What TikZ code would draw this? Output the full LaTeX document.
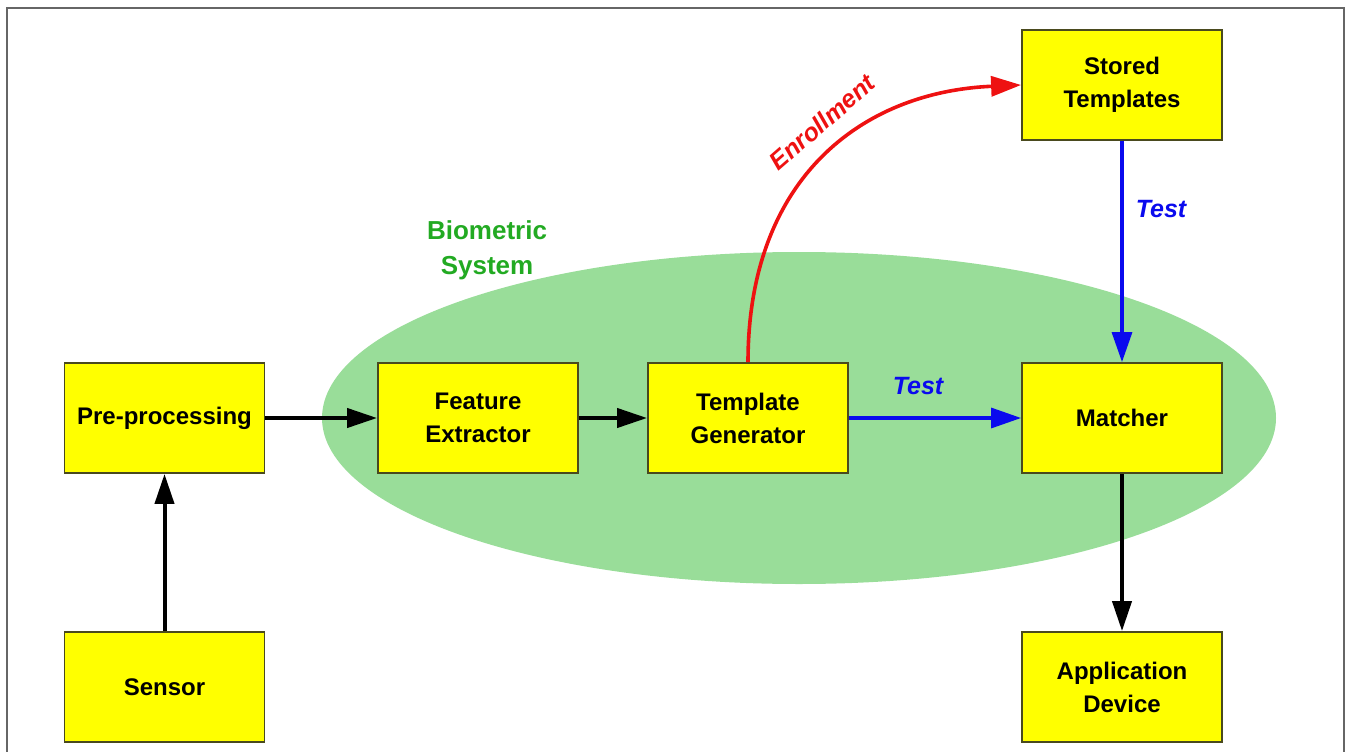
\documentclass[tikz,border=0pt]{standalone}
\usepackage{fontspec}
\setmainfont{Liberation Sans}
\usetikzlibrary{arrows.meta}

\definecolor{boxfill}{HTML}{FFFF00}
\definecolor{boxline}{HTML}{4A4A1E}
\definecolor{zone}{HTML}{99DD99}
\definecolor{zonetext}{HTML}{22AA22}
\definecolor{testblue}{HTML}{0A0AEE}
\definecolor{enrollred}{HTML}{EE1111}
\definecolor{frame}{HTML}{666666}

\tikzset{
  block/.style={draw=boxline, line width=1.8pt, fill=boxfill,
    minimum width=200pt, minimum height=110pt, inner sep=0pt,
    align=center, font=\fontsize{24}{33}\selectfont\bfseries},
  flow/.style={line width=4pt, -{Triangle[length=30pt,width=19pt]}},
  testflow/.style={draw=testblue, line width=3.2pt, -{Triangle[length=30pt,width=20pt]}},
  tag/.style={font=\fontsize{25}{30}\selectfont\bfseries\itshape, inner sep=0pt}
}

\begin{document}
\begin{tikzpicture}[x=1pt, y=-1pt]
  \useasboundingbox (0,0) rectangle (1350,752);

  % outer frame (open at the bottom edge)
  \draw[frame, line width=2.2pt] (7,752) -- (7,8) -- (1344,8) -- (1344,752);

  % region of the biometric system
  \fill[zone] (799,418) ellipse [x radius=477pt, y radius=166pt];
  \node[text=zonetext, align=center, font=\fontsize{26}{35}\selectfont\bfseries]
    (sys) at (487,250) {Biometric\\System};

  % processing blocks
  \node[block] (pre)    at (164.5,418) {Pre-processing};
  \node[block] (sensor) at (164.5,687) {Sensor};
  \node[block] (feat)   at (478,418)   {Feature\\Extractor};
  \node[block] (tgen)   at (748,418)   {Template\\Generator};
  \node[block] (match)  at (1122,418)  {Matcher};
  \node[block] (store)  at (1122,85)   {Stored\\Templates};
  \node[block] (app)    at (1122,687)  {Application\\Device};

  % main data path
  \draw[flow] (sensor.north) -- (pre.south);
  \draw[flow] (pre.east) -- (feat.west);
  \draw[flow] (feat.east) -- (tgen.west);
  \draw[flow] (match.south) -- (app.north);

  % test path
  \draw[testflow] (tgen.east) -- (match.west);
  \draw[testflow] (store.south) -- (match.north);
  \node[tag, text=testblue] (t1) at (918,386) {Test};
  \node[tag, text=testblue] (t2) at (1161,209) {Test};

  % enrollment path
  \draw[enrollred, line width=3.6pt, -{Triangle[length=30pt,width=20pt]}]
    (tgen.north) .. controls (748,180) and (860,92) .. (store.west);
  \node[tag, text=enrollred, rotate=41] (enr) at (822,122) {Enrollment};
\end{tikzpicture}
\end{document}
